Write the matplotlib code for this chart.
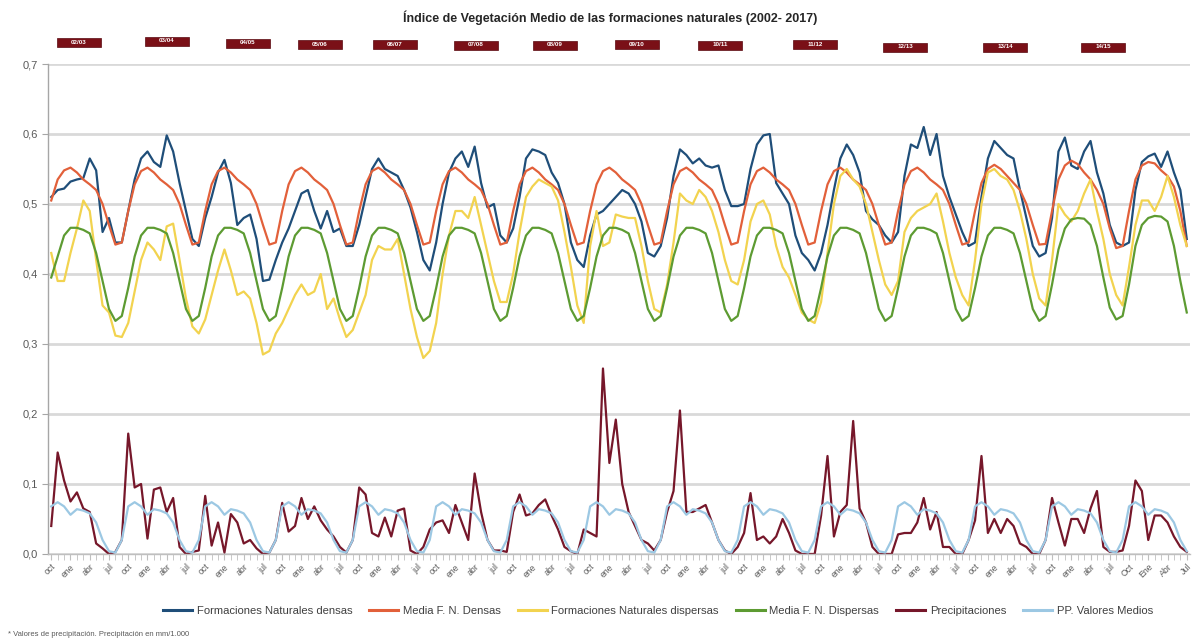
import numpy as np
import matplotlib
matplotlib.use("Agg")
import matplotlib.pyplot as plt
from matplotlib.patches import Rectangle
from matplotlib.lines import Line2D

plt.rcParams['font.family'] = ['Liberation Sans', 'DejaVu Sans']

# ---------------- data (monthly, Oct 2002 - Jul 2017) ----------------
hydro_years = ["02/03", "03/04", "04/05", "05/06", "06/07", "07/08", "08/09",
               "09/10", "10/11", "11/12", "12/13", "13/14", "14/15"]
month_labels = ["oct", "ene", "abr", "jul"]
last_year_labels = ["Oct", "Ene", "Abr", "Jul"]

densas = [
    [0.51, 0.52, 0.522, 0.532, 0.535, 0.537, 0.565, 0.548, 0.46, 0.48, 0.445, 0.445],
    [0.49, 0.535, 0.565, 0.575, 0.56, 0.553, 0.598, 0.575, 0.53, 0.49, 0.45, 0.44],
    [0.48, 0.51, 0.545, 0.563, 0.53, 0.47, 0.48, 0.485, 0.45, 0.39, 0.392, 0.42],
    [0.445, 0.465, 0.49, 0.515, 0.52, 0.49, 0.465, 0.49, 0.46, 0.465, 0.44, 0.44],
    [0.47, 0.51, 0.55, 0.565, 0.55, 0.545, 0.54, 0.52, 0.495, 0.46, 0.42, 0.405],
    [0.445, 0.5, 0.545, 0.565, 0.575, 0.553, 0.582, 0.53, 0.495, 0.5, 0.455, 0.445],
    [0.465, 0.51, 0.565, 0.578, 0.575, 0.57, 0.545, 0.53, 0.5, 0.445, 0.42, 0.41],
    [0.455, 0.485, 0.49, 0.5, 0.51, 0.52, 0.515, 0.5, 0.475, 0.43, 0.425, 0.44],
    [0.48, 0.54, 0.578, 0.57, 0.558, 0.565, 0.555, 0.552, 0.555, 0.52, 0.497, 0.497],
    [0.5, 0.55, 0.585, 0.598, 0.6, 0.53, 0.515, 0.5, 0.455, 0.43, 0.42, 0.405],
    [0.43, 0.47, 0.52, 0.565, 0.585, 0.57, 0.545, 0.49, 0.478, 0.47, 0.455, 0.445],
    [0.46, 0.54, 0.585, 0.58, 0.61, 0.57, 0.6, 0.54, 0.51, 0.485, 0.46, 0.44],
    [0.445, 0.51, 0.565, 0.59, 0.58, 0.57, 0.565, 0.52, 0.48, 0.44, 0.425, 0.43],
    [0.48, 0.575, 0.595, 0.555, 0.55, 0.575, 0.59, 0.545, 0.515, 0.47, 0.445, 0.44],
    [0.445, 0.52, 0.56, 0.568, 0.572, 0.553, 0.575, 0.545, 0.52, 0.45],
]

media_densas = [
    [0.505, 0.535, 0.548, 0.552, 0.545, 0.535, 0.528, 0.52, 0.5, 0.47, 0.442, 0.445],
    [0.49, 0.528, 0.547, 0.552, 0.545, 0.535, 0.528, 0.52, 0.5, 0.47, 0.442, 0.445],
    [0.49, 0.528, 0.547, 0.552, 0.545, 0.535, 0.528, 0.52, 0.5, 0.47, 0.442, 0.445],
    [0.49, 0.528, 0.547, 0.552, 0.545, 0.535, 0.528, 0.52, 0.5, 0.47, 0.442, 0.445],
    [0.49, 0.528, 0.547, 0.552, 0.545, 0.535, 0.528, 0.52, 0.5, 0.47, 0.442, 0.445],
    [0.49, 0.528, 0.547, 0.552, 0.545, 0.535, 0.528, 0.52, 0.5, 0.47, 0.442, 0.445],
    [0.49, 0.528, 0.547, 0.552, 0.545, 0.535, 0.528, 0.52, 0.5, 0.47, 0.442, 0.445],
    [0.49, 0.528, 0.547, 0.552, 0.545, 0.535, 0.528, 0.52, 0.5, 0.47, 0.442, 0.445],
    [0.49, 0.528, 0.547, 0.552, 0.545, 0.535, 0.528, 0.52, 0.5, 0.47, 0.442, 0.445],
    [0.49, 0.528, 0.547, 0.552, 0.545, 0.535, 0.528, 0.52, 0.5, 0.47, 0.442, 0.445],
    [0.49, 0.528, 0.547, 0.552, 0.545, 0.535, 0.528, 0.52, 0.5, 0.47, 0.442, 0.445],
    [0.49, 0.528, 0.547, 0.552, 0.545, 0.535, 0.528, 0.52, 0.5, 0.47, 0.442, 0.445],
    [0.49, 0.53, 0.55, 0.556, 0.55, 0.54, 0.53, 0.52, 0.5, 0.47, 0.442, 0.443],
    [0.49, 0.535, 0.555, 0.562, 0.557, 0.545, 0.535, 0.52, 0.5, 0.465, 0.437, 0.44],
    [0.49, 0.535, 0.555, 0.56, 0.558, 0.548, 0.54, 0.525, 0.49, 0.44],
]

dispersas = [
    [0.43, 0.39, 0.39, 0.43, 0.465, 0.505, 0.49, 0.42, 0.355, 0.345, 0.312, 0.31],
    [0.33, 0.375, 0.42, 0.445, 0.435, 0.42, 0.468, 0.472, 0.42, 0.365, 0.325, 0.315],
    [0.335, 0.37, 0.405, 0.435, 0.405, 0.37, 0.375, 0.365, 0.33, 0.285, 0.29, 0.315],
    [0.33, 0.35, 0.37, 0.385, 0.37, 0.375, 0.4, 0.35, 0.365, 0.335, 0.31, 0.32],
    [0.345, 0.37, 0.42, 0.44, 0.435, 0.435, 0.45, 0.4, 0.35, 0.31, 0.28, 0.29],
    [0.33, 0.4, 0.455, 0.49, 0.49, 0.48, 0.51, 0.47, 0.43, 0.39, 0.36, 0.36],
    [0.4, 0.46, 0.51, 0.525, 0.535, 0.53, 0.525, 0.505, 0.46, 0.41, 0.355, 0.33],
    [0.44, 0.49, 0.44, 0.445, 0.485, 0.482, 0.48, 0.48, 0.44, 0.39, 0.35, 0.345],
    [0.385, 0.445, 0.515, 0.505, 0.5, 0.52, 0.51, 0.49, 0.46, 0.42, 0.39, 0.385],
    [0.42, 0.475, 0.5, 0.505, 0.485, 0.44, 0.41, 0.395, 0.37, 0.345, 0.335, 0.33],
    [0.36, 0.43, 0.5, 0.54, 0.55, 0.535, 0.525, 0.5, 0.46, 0.42, 0.385, 0.37],
    [0.39, 0.46, 0.48, 0.49, 0.495, 0.5, 0.515, 0.475, 0.43, 0.395, 0.37, 0.355],
    [0.42, 0.5, 0.545, 0.55, 0.54, 0.535, 0.52, 0.49, 0.45, 0.4, 0.365, 0.355],
    [0.42, 0.5, 0.485, 0.475, 0.49, 0.515, 0.535, 0.49, 0.45, 0.4, 0.37, 0.355],
    [0.41, 0.47, 0.505, 0.505, 0.49, 0.51, 0.54, 0.51, 0.47, 0.44],
]

media_dispersas = [
    [0.395, 0.425, 0.455, 0.466, 0.466, 0.463, 0.458, 0.43, 0.39, 0.35, 0.333, 0.34],
    [0.38, 0.425, 0.455, 0.466, 0.466, 0.463, 0.458, 0.43, 0.39, 0.35, 0.333, 0.34],
    [0.38, 0.425, 0.455, 0.466, 0.466, 0.463, 0.458, 0.43, 0.39, 0.35, 0.333, 0.34],
    [0.38, 0.425, 0.455, 0.466, 0.466, 0.463, 0.458, 0.43, 0.39, 0.35, 0.333, 0.34],
    [0.38, 0.425, 0.455, 0.466, 0.466, 0.463, 0.458, 0.43, 0.39, 0.35, 0.333, 0.34],
    [0.38, 0.425, 0.455, 0.466, 0.466, 0.463, 0.458, 0.43, 0.39, 0.35, 0.333, 0.34],
    [0.38, 0.425, 0.455, 0.466, 0.466, 0.463, 0.458, 0.43, 0.39, 0.35, 0.333, 0.34],
    [0.38, 0.425, 0.455, 0.466, 0.466, 0.463, 0.458, 0.43, 0.39, 0.35, 0.333, 0.34],
    [0.38, 0.425, 0.455, 0.466, 0.466, 0.463, 0.458, 0.43, 0.39, 0.35, 0.333, 0.34],
    [0.38, 0.425, 0.455, 0.466, 0.466, 0.463, 0.458, 0.43, 0.39, 0.35, 0.333, 0.34],
    [0.38, 0.425, 0.455, 0.466, 0.466, 0.463, 0.458, 0.43, 0.39, 0.35, 0.333, 0.34],
    [0.38, 0.425, 0.455, 0.466, 0.466, 0.463, 0.458, 0.43, 0.39, 0.35, 0.333, 0.34],
    [0.38, 0.425, 0.455, 0.466, 0.466, 0.463, 0.458, 0.43, 0.39, 0.35, 0.333, 0.34],
    [0.385, 0.435, 0.465, 0.478, 0.48, 0.479, 0.47, 0.44, 0.395, 0.352, 0.335, 0.34],
    [0.385, 0.44, 0.47, 0.48, 0.483, 0.482, 0.475, 0.44, 0.39, 0.345],
]

precipitaciones = [
    [0.04, 0.145, 0.105, 0.075, 0.088, 0.065, 0.06, 0.015, 0.008, 0.0, 0.003, 0.02],
    [0.172, 0.095, 0.1, 0.022, 0.092, 0.095, 0.06, 0.08, 0.01, 0.0, 0.003, 0.005],
    [0.083, 0.012, 0.045, 0.002, 0.057, 0.045, 0.015, 0.02, 0.008, 0.0, 0.002, 0.02],
    [0.073, 0.032, 0.04, 0.08, 0.05, 0.068, 0.048, 0.035, 0.025, 0.01, 0.002, 0.02],
    [0.095, 0.085, 0.03, 0.025, 0.052, 0.025, 0.062, 0.065, 0.005, 0.0, 0.01, 0.035],
    [0.045, 0.048, 0.03, 0.07, 0.045, 0.02, 0.115, 0.06, 0.02, 0.005, 0.005, 0.003],
    [0.06, 0.085, 0.055, 0.058, 0.07, 0.078, 0.055, 0.035, 0.01, 0.004, 0.0, 0.035],
    [0.03, 0.025, 0.265, 0.13, 0.192, 0.1, 0.06, 0.04, 0.02, 0.015, 0.005, 0.02],
    [0.06, 0.09, 0.205, 0.06, 0.06, 0.065, 0.07, 0.045, 0.02, 0.005, 0.0, 0.01],
    [0.03, 0.087, 0.02, 0.025, 0.015, 0.025, 0.05, 0.03, 0.005, 0.0, 0.0, 0.0],
    [0.055, 0.14, 0.025, 0.06, 0.07, 0.19, 0.065, 0.045, 0.01, 0.0, 0.0, 0.0],
    [0.028, 0.03, 0.03, 0.045, 0.08, 0.035, 0.06, 0.01, 0.01, 0.0, 0.0, 0.02],
    [0.048, 0.14, 0.03, 0.05, 0.03, 0.05, 0.04, 0.015, 0.01, 0.0, 0.0, 0.02],
    [0.08, 0.045, 0.012, 0.05, 0.05, 0.03, 0.065, 0.09, 0.01, 0.003, 0.003, 0.005],
    [0.04, 0.105, 0.09, 0.02, 0.055, 0.055, 0.045, 0.025, 0.01, 0.003],
]

pp_medias = [
    [0.068, 0.074, 0.068, 0.056, 0.064, 0.062, 0.058, 0.045, 0.02, 0.004, 0.002, 0.02],
    [0.068, 0.074, 0.068, 0.056, 0.064, 0.062, 0.058, 0.045, 0.02, 0.004, 0.002, 0.02],
    [0.068, 0.074, 0.068, 0.056, 0.064, 0.062, 0.058, 0.045, 0.02, 0.004, 0.002, 0.02],
    [0.068, 0.074, 0.068, 0.056, 0.064, 0.062, 0.058, 0.045, 0.02, 0.004, 0.002, 0.02],
    [0.068, 0.074, 0.068, 0.056, 0.064, 0.062, 0.058, 0.045, 0.02, 0.004, 0.002, 0.02],
    [0.068, 0.074, 0.068, 0.056, 0.064, 0.062, 0.058, 0.045, 0.02, 0.004, 0.002, 0.02],
    [0.068, 0.074, 0.068, 0.056, 0.064, 0.062, 0.058, 0.045, 0.02, 0.004, 0.002, 0.02],
    [0.068, 0.074, 0.068, 0.056, 0.064, 0.062, 0.058, 0.045, 0.02, 0.004, 0.002, 0.02],
    [0.068, 0.074, 0.068, 0.056, 0.064, 0.062, 0.058, 0.045, 0.02, 0.004, 0.002, 0.02],
    [0.068, 0.074, 0.068, 0.056, 0.064, 0.062, 0.058, 0.045, 0.02, 0.004, 0.002, 0.02],
    [0.068, 0.074, 0.068, 0.056, 0.064, 0.062, 0.058, 0.045, 0.02, 0.004, 0.002, 0.02],
    [0.068, 0.074, 0.068, 0.056, 0.064, 0.062, 0.058, 0.045, 0.02, 0.004, 0.002, 0.02],
    [0.068, 0.074, 0.068, 0.056, 0.064, 0.062, 0.058, 0.045, 0.02, 0.004, 0.002, 0.02],
    [0.068, 0.074, 0.068, 0.056, 0.064, 0.062, 0.058, 0.045, 0.02, 0.004, 0.002, 0.02],
    [0.068, 0.074, 0.068, 0.056, 0.064, 0.062, 0.058, 0.045, 0.02, 0.004],
]

series_names = ["Formaciones Naturales densas", "Media F. N. Densas",
                "Formaciones Naturales dispersas", "Media F. N. Dispersas",
                "Precipitaciones", "PP. Valores Medios"]

# ---------------- styling ----------------
colors = ["#1f4e79", "#e2603a", "#f2d34f", "#5d9b32", "#76172a", "#9cc8e3"]
GRID = "#d9d9d9"
TXT = "#404040"

all_series = [densas, media_densas, dispersas, media_dispersas, precipitaciones, pp_medias]
flat = [np.concatenate([np.asarray(y, float) for y in s]) for s in all_series]
n = len(flat[0])
x = np.arange(n)

fig = plt.figure(figsize=(11.92, 6.4), dpi=100)
ax = fig.add_axes([0.0403, 0.1344, 0.958, 0.7656])

ax.set_ylim(0, 0.7)
ax.set_xlim(-0.5, n - 0.5)
ax.set_yticks(np.arange(0, 0.71, 0.1))
ax.yaxis.grid(True, color=GRID, linewidth=2.0)
ax.set_axisbelow(True)
for sp in ["top", "right"]:
    ax.spines[sp].set_visible(False)
ax.spines["left"].set_color("#a6a6a6")
ax.spines["bottom"].set_color("#bfbfbf")
ax.spines["left"].set_linewidth(1.0)
ax.spines["bottom"].set_linewidth(1.0)

lines = []
for vals, c, name in zip(flat, colors, series_names):
    ln, = ax.plot(x, vals, color=c, linewidth=1.6, label=name, solid_joinstyle="round")
    lines.append(ln)

ax.set_yticklabels([("%.1f" % v).replace(".", ",") for v in np.arange(0, 0.71, 0.1)],
                   fontsize=8, color="#595959")
ax.tick_params(axis="y", length=4, color="#a6a6a6", pad=3)

# x ticks: every month minor, labels every 3 months
tick_pos = x[::3]
labels = []
nlab = len(tick_pos)
for k in range(nlab):
    if k >= nlab - 4:
        labels.append(last_year_labels[k % 4])
    else:
        labels.append(month_labels[k % 4])
ax.set_xticks(tick_pos)
ax.set_xticklabels(labels, rotation=45, ha="right", va="top", fontsize=6.3,
                   color="#595959", rotation_mode="anchor")
ax.set_xticks(x, minor=True)
ax.tick_params(axis="x", which="both", length=4, color="#bfbfbf", pad=2)

# title
fig.text(0.512, 0.972, "Índice de Vegetación Medio de las formaciones naturales (2002- 2017)",
         ha="center", va="center", fontsize=9, fontweight="bold", color="#262626")

# hydrological year boxes
box_px = [(79, 42), (167, 41), (248, 43), (320, 44), (395, 44), (476, 45), (555, 45),
          (637, 44), (720, 45), (815, 44), (905, 47), (1005, 47), (1103, 47)]
W, H = 1192.0, 640.0
for lab, (cx, cy) in zip(hydro_years, box_px):
    bw, bh = 44, 9
    fig.patches.append(Rectangle(((cx - bw / 2) / W, 1 - (cy + bh / 2) / H), bw / W, bh / H,
                                 transform=fig.transFigure, facecolor="#7a1017",
                                 edgecolor="#5a0a10", linewidth=0.5))
    fig.text(cx / W, 1 - cy / H, lab, ha="center", va="center", fontsize=4.5,
             color="white", fontweight="bold")

# legend
handles = [Line2D([0], [0], color=c, linewidth=2.2) for c in colors]
leg = fig.legend(handles, series_names, loc="center", bbox_to_anchor=(0.552, 0.046),
                 ncol=6, frameon=False, fontsize=8.1, handlelength=2.6,
                 handletextpad=0.4, columnspacing=1.5)
for t in leg.get_texts():
    t.set_color(TXT)

# footnote
fig.text(8 / W, 1 - 634 / H, "* Valores de precipitación. Precipitación en mm/1.000",
         ha="left", va="center", fontsize=5.5, color="#595959")

fig.savefig("out.png", dpi=100, facecolor="white")
